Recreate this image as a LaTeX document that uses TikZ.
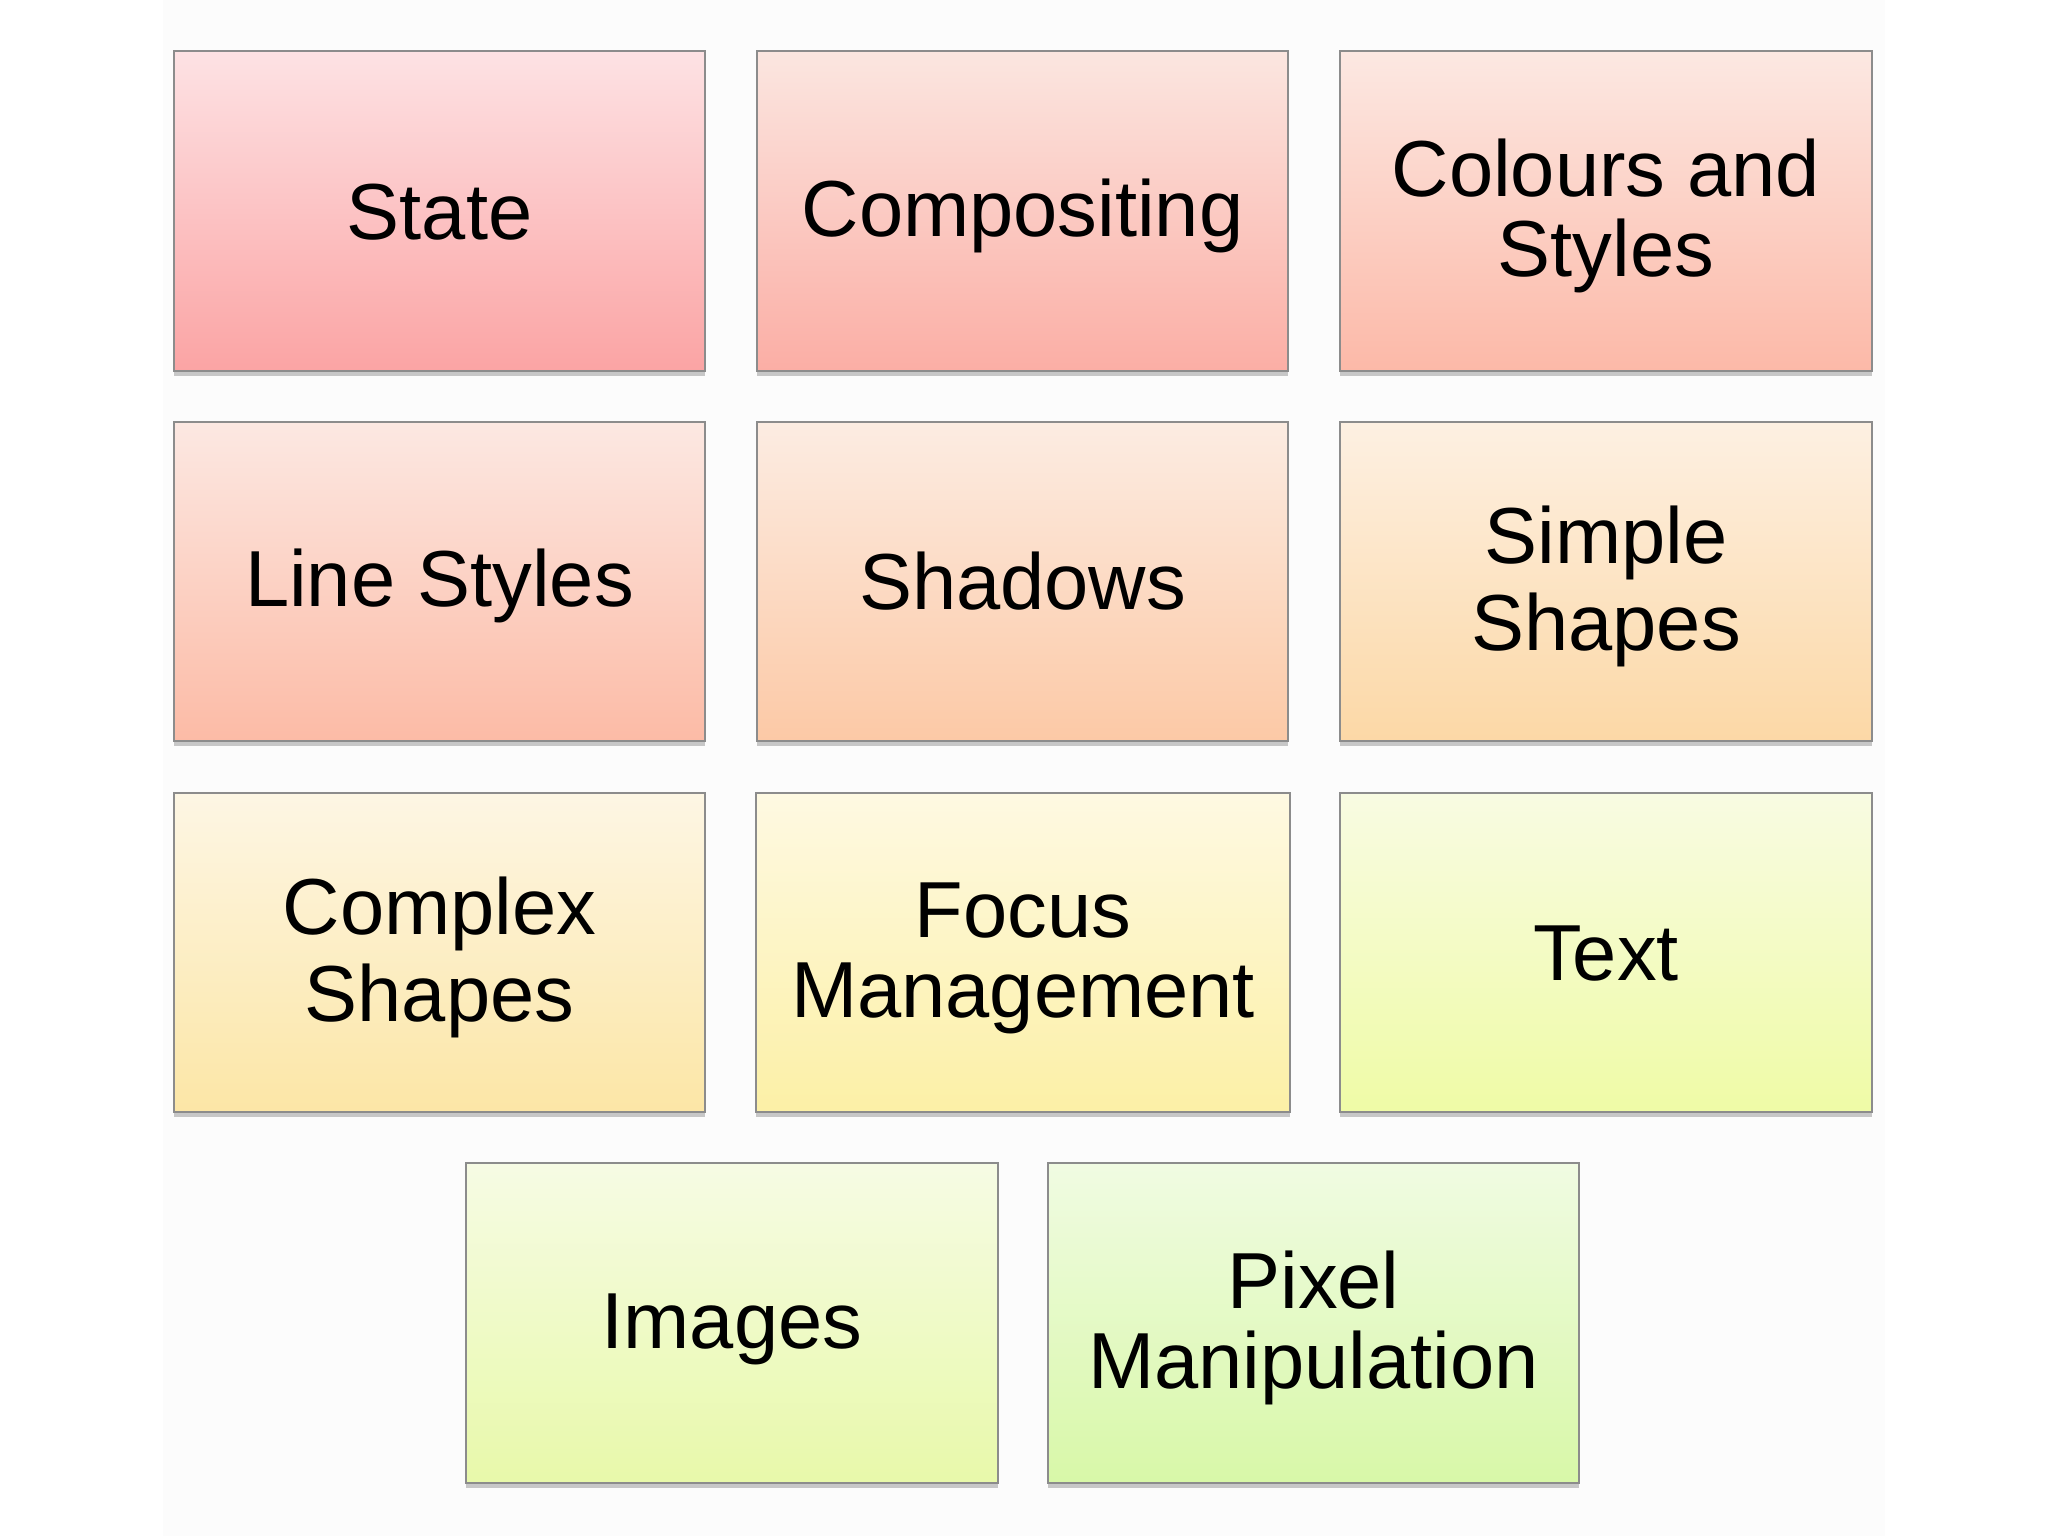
\documentclass[tikz,border=0pt]{standalone}
\usepackage{fontspec}
\setmainfont{Liberation Sans}
\usetikzlibrary{shadows}
\newcommand{\tilestrut}{\rule[-3pt]{0pt}{22pt}}
\definecolor{c1t}{HTML}{FDE2E4}\definecolor{c1b}{HTML}{FBA4A4}
\definecolor{c2t}{HTML}{FBE6E0}\definecolor{c2b}{HTML}{FBAEA5}
\definecolor{c3t}{HTML}{FCE8E2}\definecolor{c3b}{HTML}{FCB9A8}
\definecolor{c4t}{HTML}{FCE8E2}\definecolor{c4b}{HTML}{FCBBA6}
\definecolor{c5t}{HTML}{FCECE2}\definecolor{c5b}{HTML}{FCC9A6}
\definecolor{c6t}{HTML}{FDF0E2}\definecolor{c6b}{HTML}{FCD8A6}
\definecolor{c7t}{HTML}{FDF6E4}\definecolor{c7b}{HTML}{FCE6A6}
\definecolor{c8t}{HTML}{FEF9E2}\definecolor{c8b}{HTML}{FCF0A6}
\definecolor{c9t}{HTML}{F8FBE2}\definecolor{c9b}{HTML}{EFFBA6}
\definecolor{c10t}{HTML}{F6FBE4}\definecolor{c10b}{HTML}{E8F9AA}
\definecolor{c11t}{HTML}{F0FBE2}\definecolor{c11b}{HTML}{D8F8A8}
\definecolor{bordergray}{HTML}{8C8C8C}
\definecolor{pagebg}{HTML}{FCFCFC}
\tikzset{
  tile/.style={rectangle, draw=bordergray, line width=0.6pt,
    minimum width=5.31cm, minimum height=3.19cm, inner sep=0pt,
    align=center, font=\fontsize{22.6}{22.8}\selectfont,
    drop shadow={shadow xshift=0cm, shadow yshift=-0.05cm, opacity=0.35, fill=black!60}},
  tc/.style 2 args={top color=#1, bottom color=#2}
}
\begin{document}
\begin{tikzpicture}[x=0.01cm,y=-0.01cm]
\useasboundingbox (0,0) rectangle (2048,1536);
\fill[white] (0,0) rectangle (2048,1536);
\fill[pagebg] (163,0) rectangle (1885,1536);
\node[tile, tc={c1t}{c1b}] (state) at (439.5,211) {\tilestrut State};
\node[tile, tc={c2t}{c2b}] (comp) at (1022.5,211) {\tilestrut Compositing};
\node[tile, tc={c3t}{c3b}] (colours) at (1606,211) {\tilestrut Colours and\\\tilestrut Styles};
\node[tile, tc={c4t}{c4b}] (lines) at (439.5,581.5) {\tilestrut Line Styles};
\node[tile, tc={c5t}{c5b}] (shadows) at (1022.5,581.5) {\tilestrut Shadows};
\node[tile, tc={c6t}{c6b}] (simple) at (1606,581.5) {\tilestrut Simple\\\tilestrut Shapes};
\node[tile, tc={c7t}{c7b}] (complex) at (439.5,952.5) {\tilestrut Complex\\\tilestrut Shapes};
\node[tile, tc={c8t}{c8b}, minimum width=5.34cm] (focus) at (1023,952.5) {\tilestrut Focus\\\tilestrut Management};
\node[tile, tc={c9t}{c9b}] (text) at (1606,952.5) {\tilestrut Text};
\node[tile, tc={c10t}{c10b}] (images) at (732,1323) {\tilestrut Images};
\node[tile, tc={c11t}{c11b}] (pixel) at (1313.5,1323) {\tilestrut Pixel\\\tilestrut Manipulation};
\end{tikzpicture}
\end{document}
